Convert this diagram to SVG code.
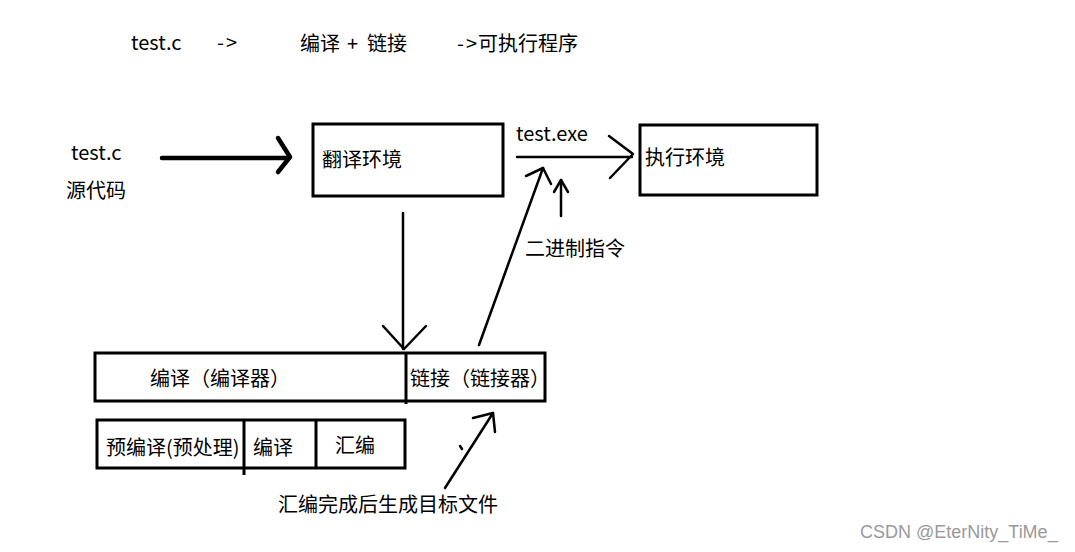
<svg xmlns="http://www.w3.org/2000/svg" width="1075" height="552" viewBox="0 0 1075 552">
<style>
text{font-family:"Noto Sans CJK SC","Microsoft YaHei",sans-serif;font-size:20px;fill:#000}
.box{fill:#fff;stroke:#000;stroke-width:3}
.ln{fill:none;stroke:#000;stroke-width:2.5;stroke-linecap:round;stroke-linejoin:round}
.thick{stroke-width:4.5}
.wm{font-family:"Liberation Sans",Arial,sans-serif;font-size:18px;fill:#9a9a9a}
</style>
<rect width="1075" height="552" fill="#fff"/>
<g id="title">
<text x="131" y="50">test.c</text>
<text x="217" y="50" textLength="20" lengthAdjust="spacing">-&gt;</text>
<text x="300" y="51">编译</text>
<text x="347" y="51">+</text>
<text x="367" y="51">链接</text>
<text x="457" y="51" textLength="20" lengthAdjust="spacing">-&gt;</text>
<text x="478" y="51">可执行程序</text>
</g>
<g id="source">
<text x="71" y="160">test.c</text>
<text x="66" y="198">源代码</text>
</g>
<g id="translate">
<rect class="box" x="313" y="124" width="190" height="72"/>
<text x="322" y="167">翻译环境</text>
</g>
<g id="exec">
<rect class="box" x="640" y="125" width="177" height="70"/>
<text x="645" y="165">执行环境</text>
</g>
<g id="labels">
<text x="516" y="141">test.exe</text>
<text x="525" y="256">二进制指令</text>
<text x="278" y="512">汇编完成后生成目标文件</text>
</g>
<g id="compile-link">
<rect class="box" x="95" y="353" width="450" height="48"/>
<line x1="406" y1="353" x2="406" y2="404" stroke="#000" stroke-width="3"/>
<text x="150" y="386">编译（编译器）</text>
<text x="410" y="386">链接（链接器）</text>
</g>
<g id="stages">
<rect class="box" x="97" y="420" width="308" height="48"/>
<line x1="244" y1="420" x2="244" y2="475" stroke="#000" stroke-width="3"/>
<line x1="316" y1="420" x2="316" y2="468" stroke="#000" stroke-width="3"/>
<text x="106" y="455">预编译(预处理)</text>
<text x="253" y="455">编译</text>
<text x="335" y="453">汇编</text>
</g>
<g id="connectors">
<line class="ln thick" x1="162" y1="158" x2="289" y2="158"/>
<polyline class="ln thick" points="278,138 290,157 278,172"/>
<line class="ln" x1="517" y1="157" x2="632" y2="157"/>
<polyline class="ln" points="609,136 633,154 610,178"/>
<line class="ln" x1="561" y1="216" x2="561" y2="180"/>
<polyline class="ln" points="554,192 561,180 568,192"/>
<line class="ln" x1="479" y1="345" x2="543" y2="168"/>
<polyline class="ln" points="526,176 543,168 551,184"/>
<line class="ln" x1="403" y1="213" x2="403" y2="349"/>
<polyline class="ln" points="383,326 404,349 426,326"/>
<line class="ln" x1="445" y1="488" x2="493" y2="413"/>
<polyline class="ln" points="473,418 493,413 495,432"/>
<line class="ln" x1="460" y1="446" x2="462" y2="449" stroke-width="2"/>
</g>
<text class="wm" x="860" y="538">CSDN @EterNity_TiMe_</text>
</svg>
